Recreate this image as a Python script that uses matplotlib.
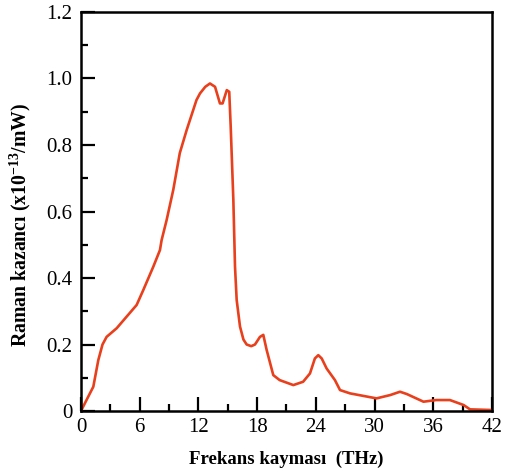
import matplotlib
matplotlib.use("Agg")
import matplotlib.pyplot as plt
from matplotlib.ticker import MultipleLocator

# Raman gain spectrum
freq = [0.0, 0.6, 1.26, 1.77, 2.2, 2.62, 3.65, 4.67, 5.69, 6.37, 7.39, 8.07, 8.24,
        8.75, 9.43, 10.1, 10.8, 11.8, 12.16, 12.7, 13.18, 13.7, 14.2, 14.47, 14.9,
        15.15, 15.3, 15.57, 15.74, 15.91, 16.25, 16.6, 16.93, 17.4, 17.78, 18.29,
        18.63, 18.97, 19.65, 20.3, 21.7, 22.7, 23.4, 23.9, 24.25, 24.6, 25.1,
        25.95, 26.47, 27.5, 30.2, 31.6, 32.6, 33.3, 35.0, 36.3, 37.7, 39.1,
        39.75, 42.0]
gain = [0.0, 0.035, 0.073, 0.153, 0.2, 0.223, 0.249, 0.284, 0.319, 0.364, 0.434,
        0.484, 0.514, 0.574, 0.665, 0.776, 0.845, 0.935, 0.955, 0.975, 0.985,
        0.975, 0.925, 0.925, 0.965, 0.96, 0.855, 0.635, 0.434, 0.334, 0.254,
        0.215, 0.2, 0.195, 0.2, 0.223, 0.229, 0.184, 0.108, 0.093, 0.078,
        0.088, 0.113, 0.158, 0.168, 0.158, 0.128, 0.093, 0.063, 0.053, 0.038,
        0.048, 0.058, 0.051, 0.028, 0.033, 0.033, 0.018, 0.005, 0.003]

x_ticks = [0, 6, 12, 18, 24, 30, 36, 42]
y_ticks = [0, 0.2, 0.4, 0.6, 0.8, 1.0, 1.2]
y_tick_labels = ["0", "0.2", "0.4", "0.6", "0.8", "1.0", "1.2"]

plt.rcParams['font.family'] = ['Liberation Serif', 'DejaVu Serif']
plt.rcParams['mathtext.fontset'] = 'custom'
plt.rcParams['mathtext.bf'] = 'Liberation Serif:bold'
plt.rcParams['mathtext.rm'] = 'Liberation Serif:bold'
plt.rcParams['mathtext.default'] = 'bf'

fig = plt.figure(figsize=(5.08, 4.72), dpi=100)
ax = fig.add_axes([0.1594, 0.1292, 0.8091, 0.8454])

ax.plot(freq, gain, color='#e8401c', linewidth=1.9, solid_joinstyle='round')

ax.set_xlim(0, 42)
ax.set_ylim(0, 1.2)
ax.set_xticks(x_ticks)
ax.set_yticks(y_ticks)
ax.set_yticklabels(y_tick_labels)
ax.xaxis.set_minor_locator(MultipleLocator(3))
ax.yaxis.set_minor_locator(MultipleLocator(0.1))
ax.tick_params(which='both', direction='in', width=1.6, top=False, right=False,
               labelsize=15)
ax.tick_params(which='major', length=10)
ax.tick_params(which='minor', length=5)
ax.tick_params(axis='x', pad=5)
ax.tick_params(axis='y', pad=6)

for s in ax.spines.values():
    s.set_linewidth(1.8)

ax.set_xlabel("Frekans kayması  (THz)", fontsize=13.5, fontweight='bold', labelpad=10)
ax.set_ylabel("Raman kazancı (x10$^{-13}$/mW)", fontsize=14.2, fontweight='bold')
ax.yaxis.set_label_coords(-0.117, 0.466)

fig.savefig("out.png", dpi=100)
